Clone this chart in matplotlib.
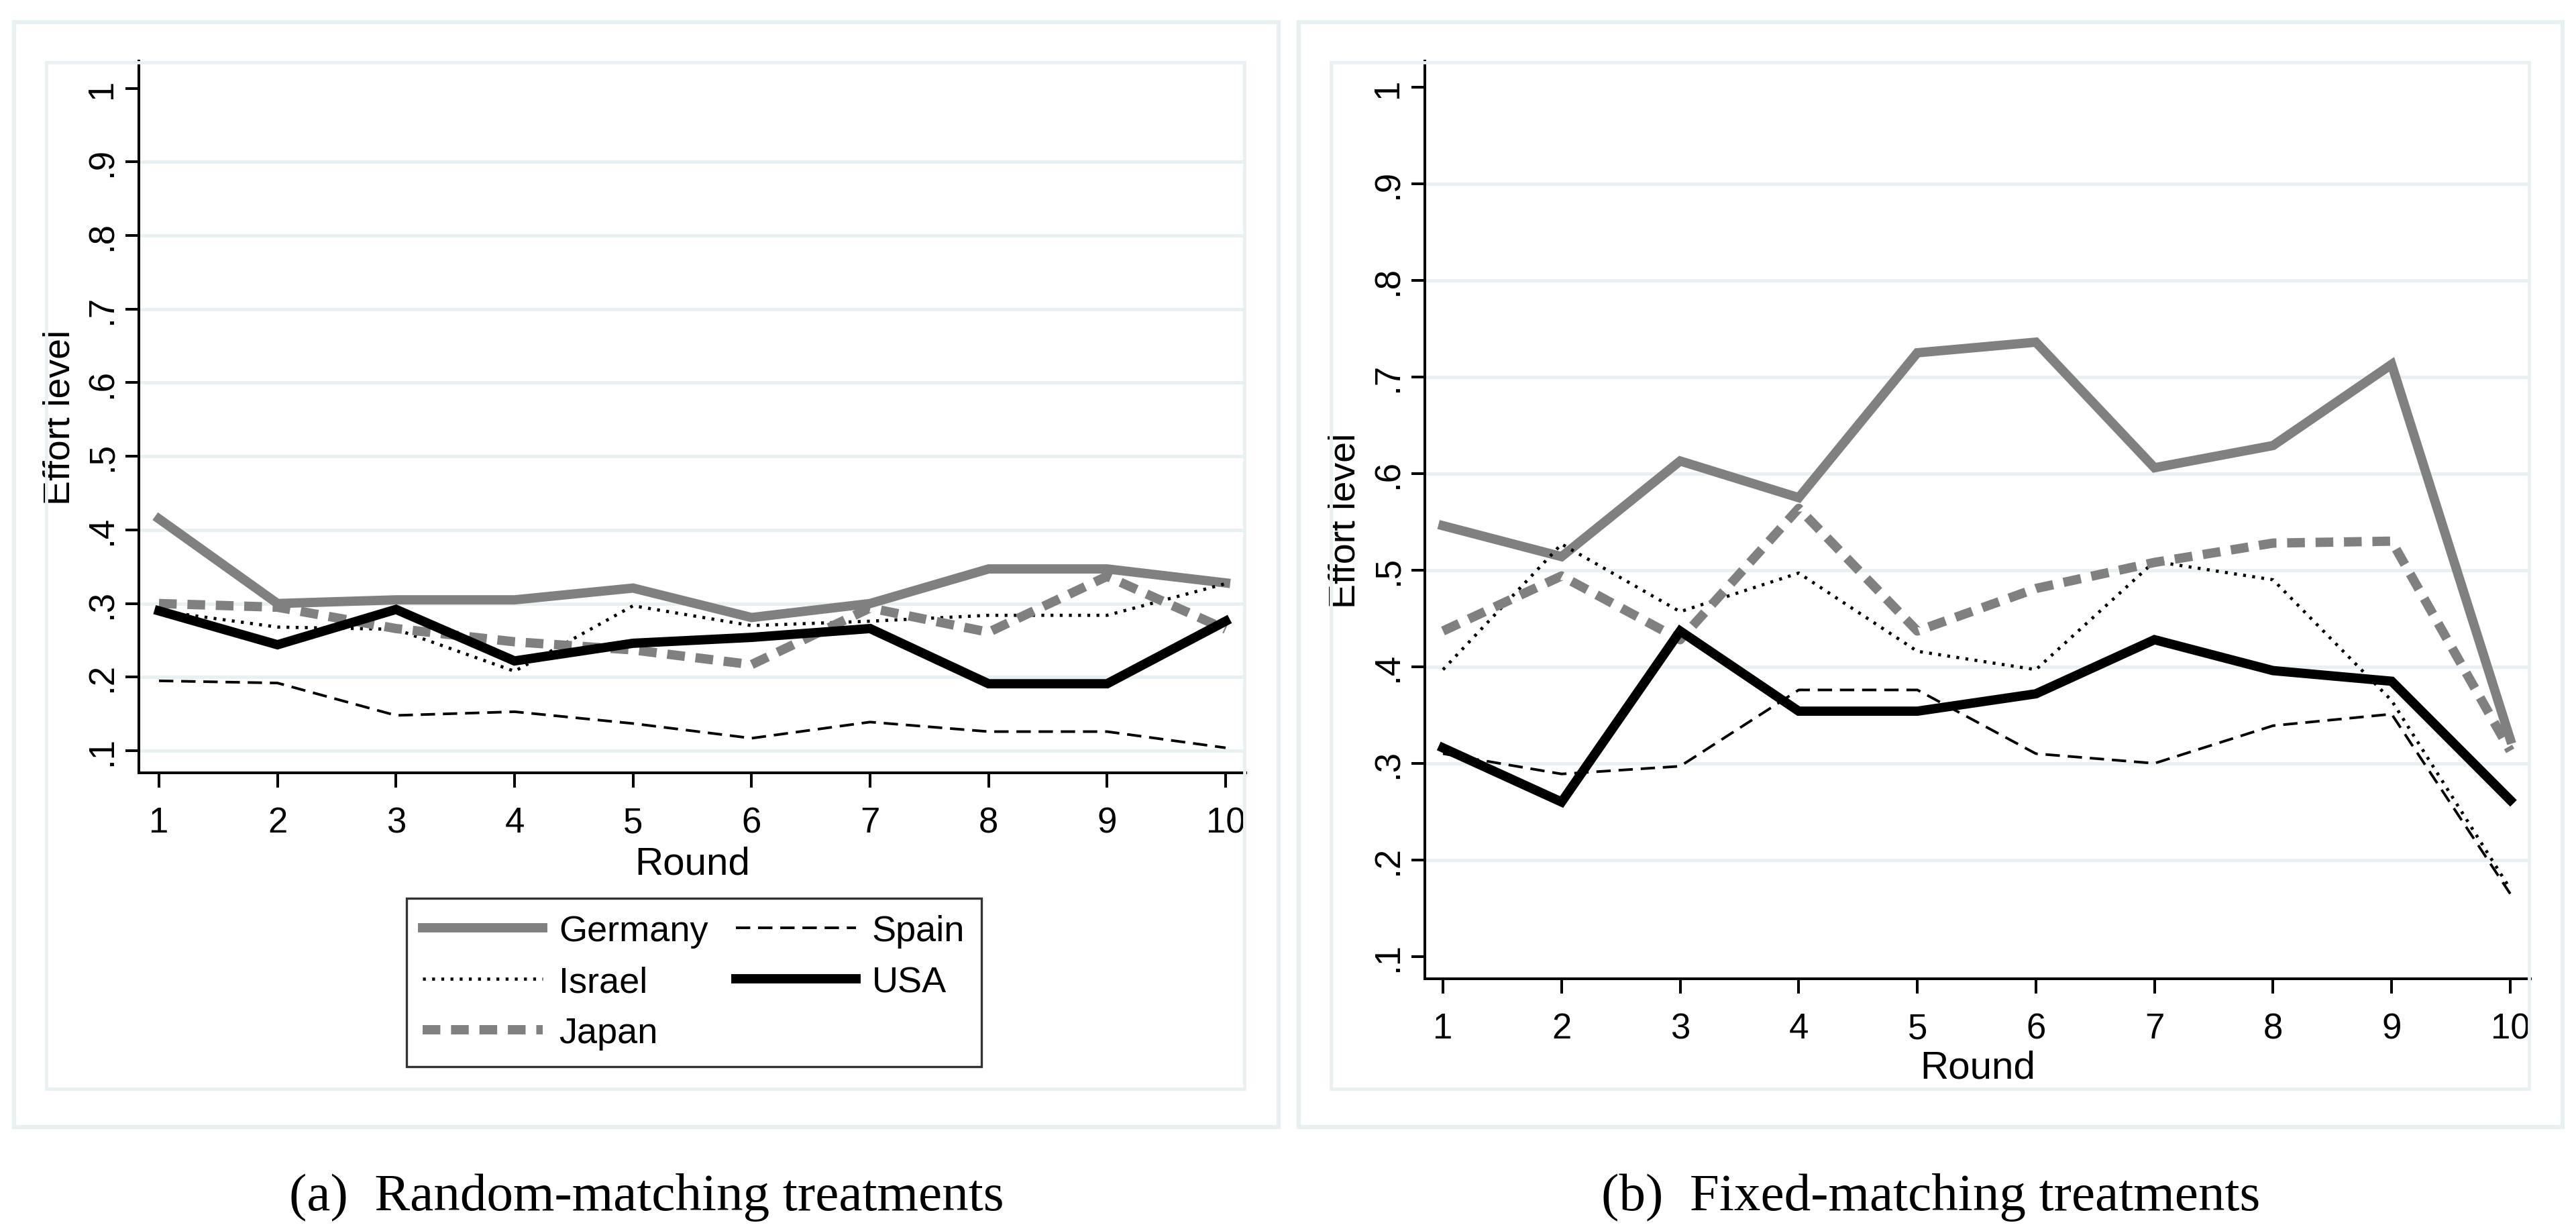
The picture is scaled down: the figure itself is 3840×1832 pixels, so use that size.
import matplotlib
matplotlib.use('Agg')
import matplotlib.pyplot as plt
from matplotlib.patches import Rectangle

# ---- data ----
rounds = [1, 2, 3, 4, 5, 6, 7, 8, 9, 10]
countries = ['Germany', 'Israel', 'Japan', 'Spain', 'USA']

# (a) random matching
germany_rand = [0.415, 0.300, 0.305, 0.305, 0.321, 0.281, 0.300, 0.347, 0.347, 0.328]
israel_rand = [0.290, 0.268, 0.265, 0.208, 0.297, 0.270, 0.276, 0.284, 0.284, 0.327]
japan_rand = [0.300, 0.295, 0.266, 0.248, 0.237, 0.217, 0.294, 0.261, 0.337, 0.265]
spain_rand = [0.195, 0.192, 0.148, 0.153, 0.137, 0.117, 0.139, 0.126, 0.126, 0.104]
usa_rand = [0.290, 0.244, 0.292, 0.222, 0.246, 0.254, 0.266, 0.191, 0.191, 0.276]

# (b) fixed matching
germany_fix = [0.546, 0.514, 0.613, 0.575, 0.725, 0.736, 0.606, 0.629, 0.713, 0.325]
israel_fix = [0.397, 0.527, 0.457, 0.497, 0.416, 0.397, 0.509, 0.490, 0.365, 0.170]
japan_fix = [0.437, 0.494, 0.428, 0.564, 0.437, 0.481, 0.508, 0.528, 0.530, 0.313]
spain_fix = [0.310, 0.289, 0.297, 0.376, 0.376, 0.310, 0.300, 0.339, 0.351, 0.165]
usa_fix = [0.316, 0.260, 0.437, 0.354, 0.354, 0.372, 0.428, 0.396, 0.385, 0.262]

yticks = [0.1, 0.2, 0.3, 0.4, 0.5, 0.6, 0.7, 0.8, 0.9, 1.0]
ytick_labels = ['.1', '.2', '.3', '.4', '.5', '.6', '.7', '.8', '.9', '1']
grid_rand = [0.1, 0.2, 0.3, 0.4, 0.5, 0.6, 0.7, 0.8, 0.9]
grid_fix = [0.2, 0.3, 0.4, 0.5, 0.6, 0.7, 0.8, 0.9]

captions = ['(a)  Random-matching treatments', '(b)  Fixed-matching treatments']

# ---- styles ----
GRAY = '#808080'
LIGHT = '#E8F0F2'
SANS = ['Liberation Sans', 'DejaVu Sans']
SERIF = ['Liberation Serif', 'DejaVu Serif']

styles = {
    'Germany': dict(color=GRAY, lw=10, ls='-'),
    'Israel': dict(color='black', lw=3.4, ls=(0, (0.9, 2.0))),
    'Japan': dict(color=GRAY, lw=10, ls=(0, (1.9, 1.15))),
    'Spain': dict(color='black', lw=2.8, ls=(0, (5.5, 3))),
    'USA': dict(color='black', lw=10, ls='-'),
}

W, H = 3840, 1833
fig = plt.figure(figsize=(W / 100, H / 100), dpi=100)


def fx(px):
    return px / W


def fy(py):
    return 1 - py / H


def frame(x0, y0, x1, y1, lw):
    fig.patches.append(Rectangle((fx(x0), fy(y1)), fx(x1) - fx(x0), fy(y0) - fy(y1),
                                 transform=fig.transFigure, fill=False,
                                 ec=LIGHT, lw=lw, zorder=0))


# outer frames and plot-region frames
frame(21, 34, 1906, 1681, 4.5)
frame(1936, 34, 3820, 1681, 4.5)
frame(69, 94, 1855, 1624, 3.5)
frame(1984, 94, 3770, 1624, 3.5)


def make_panel(rect, series, grid_vals, xlim, ylim, ytitle_x, round_y):
    ax = fig.add_axes(rect)
    ax.set_facecolor('none')
    for g in grid_vals:
        ax.axhline(g, color=LIGHT, lw=3.6, zorder=0)
    lines = []
    for name, vals in zip(countries, series):
        st = styles[name]
        ln, = ax.plot(rounds, vals, color=st['color'], lw=st['lw'], ls=st['ls'],
                      label=name, solid_joinstyle='miter', dash_capstyle='butt')
        lines.append(ln)
    ax.set_xlim(*xlim)
    ax.set_ylim(*ylim)
    ax.set_xticks(rounds)
    ax.set_xticklabels([str(r) for r in rounds], family=SANS, fontsize=38)
    ax.set_yticks(yticks)
    ax.set_yticklabels(ytick_labels, family=SANS, fontsize=38, rotation=90, va='center')
    ax.tick_params(axis='x', direction='out', length=15.5, width=2.9, pad=20)
    ax.tick_params(axis='y', direction='out', length=14.5, width=2.9, pad=7)
    for side in ['top', 'right']:
        ax.spines[side].set_visible(False)
    for side in ['left', 'bottom']:
        ax.spines[side].set_linewidth(2.9)
    ax.text(ytitle_x, 0.5, 'Effort level', transform=ax.transAxes, rotation=90,
            ha='center', va='center', family=SANS, fontsize=40)
    ax.text(0.5, round_y, 'Round', transform=ax.transAxes, ha='center',
            va='baseline', family=SANS, fontsize=42)
    return ax, lines


ax1, lines1 = make_panel([fx(207), fy(1153), fx(1857) - fx(207), fy(92) - fy(1153)],
                         [germany_rand, israel_rand, japan_rand, spain_rand, usa_rand],
                         grid_rand, (0.83, 10.17), (0.07, 1.037), -0.071, -0.1415)

ax2, lines2 = make_panel([fx(2124), fy(1460), fx(3772) - fx(2124), fy(92) - fy(1460)],
                         [germany_fix, israel_fix, japan_fix, spain_fix, usa_fix],
                         grid_fix, (0.847, 10.17), (0.077, 1.027), -0.072, -0.1075)

leg = fig.legend(lines1, countries, loc='upper left',
                 bbox_to_anchor=(fx(606), fy(1340)), bbox_transform=fig.transFigure,
                 ncol=2, frameon=True, fancybox=False, edgecolor='black',
                 prop={'family': SANS, 'size': 39}, handlelength=3.3,
                 handletextpad=0.45, columnspacing=0.75, borderpad=0.45,
                 labelspacing=0.48, borderaxespad=0)
leg.get_frame().set_linewidth(2.4)

fig.text(fx(964), fy(1804), captions[0], ha='center', va='baseline',
         family=SERIF, fontsize=57)
fig.text(fx(2878), fy(1804), captions[1], ha='center', va='baseline',
         family=SERIF, fontsize=57)

fig.savefig('out.png', dpi=100, facecolor='white')
